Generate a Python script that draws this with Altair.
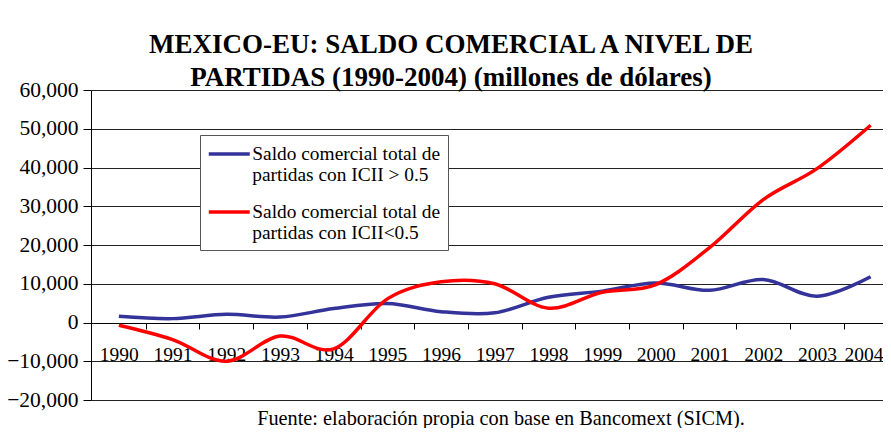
import altair as alt
import pandas as pd

years = list(range(1990, 2005))
serie_alta = [1600, 1000, 2100, 1400, 3600, 4900, 2800, 2500, 6500, 8100, 10200, 8300, 11100, 6800, 11800]
serie_baja = [-700, -4400, -10000, -3500, -6800, 6100, 10500, 10000, 3700, 7800, 9800, 19300, 31700, 39700, 50900]
nombre_alta = "Saldo comercial total de|partidas con ICII > 0.5"
nombre_baja = "Saldo comercial total de|partidas con ICII<0.5"
y_ticks = [-20000, -10000, 0, 10000, 20000, 30000, 40000, 50000, 60000]
titulo = ["MEXICO-EU: SALDO COMERCIAL A NIVEL DE", "PARTIDAS (1990-2004) (millones de dólares)"]
fuente = "Fuente: elaboración propia con base en Bancomext (SICM)."

df = pd.DataFrame({
    "year": years * 2,
    "value": serie_alta + serie_baja,
    "serie": [nombre_alta] * len(years) + [nombre_baja] * len(years),
})

FONT = "Liberation Serif"
W, H = 792, 310
last_year = "datum.value == 2004"

lines = alt.Chart(df).mark_line(interpolate="cardinal", strokeWidth=3.5).encode(
    x=alt.X("year:Q",
            scale=alt.Scale(domain=[1989.481, 2004.23], nice=False, zero=False),
            axis=alt.Axis(values=years, format="d", title=None, grid=False,
                          offset=-77, tickOffset=26.85,
                          labelOffset={"condition": {"test": last_year, "value": -14.6}, "value": -26.85},
                          labelAlign={"condition": {"test": last_year, "value": "right"}, "value": "center"},
                          tickSize=6, tickColor="black", domainColor="black",
                          labelFont=FONT, labelFontSize=19.5, labelColor="black",
                          labelPadding=16, labelFlush=False, labelOverlap=False)),
    y=alt.Y("value:Q",
            scale=alt.Scale(domain=[-20000, 60000], nice=False),
            axis=alt.Axis(values=y_ticks, format=",.0f", title=None,
                          grid=True, gridColor="#222", gridWidth=1,
                          tickSize=8, tickColor="black", domainColor="black",
                          labelFont=FONT, labelFontSize=21.5, labelColor="black",
                          labelPadding=5)),
    color=alt.Color("serie:N",
                    scale=alt.Scale(domain=[nombre_alta, nombre_baja], range=["#333399", "#ff0000"]),
                    legend=alt.Legend(title=None, orient="none", legendX=109, legendY=45,
                                      fillColor="white", strokeColor="#555", padding=7,
                                      symbolType="M-2,0H2", symbolSize=420, symbolStrokeWidth=3.5,
                                      symbolOffset=10.25,
                                      labelFont=FONT, labelFontSize=19.4, labelColor="black",
                                      labelLimit=400, labelOffset=11, rowPadding=15,
                                      labelExpr="split(datum.label, '|')",
                                      labelBaseline="middle")),
)

source = alt.Chart(pd.DataFrame({"t": [fuente]})).mark_text(
    font=FONT, fontSize=20.3, color="black", align="center", baseline="middle"
).encode(text="t:N", x=alt.value(410), y=alt.value(329))

chart = alt.layer(lines, source).properties(
    width=W, height=H,
    autosize=alt.AutoSizeParams(type="none"),
    padding={"left": 83, "top": 82, "right": 0, "bottom": 28},
    title=alt.TitleParams(text=titulo, font=FONT, fontSize=27, fontWeight="bold",
                          color="black", anchor="middle", dx=-36, offset=-13, lineHeight=33),
    background="white",
).configure_view(stroke="transparent")

chart.save("out.html", embed_options={"renderer": "svg", "actions": False})
